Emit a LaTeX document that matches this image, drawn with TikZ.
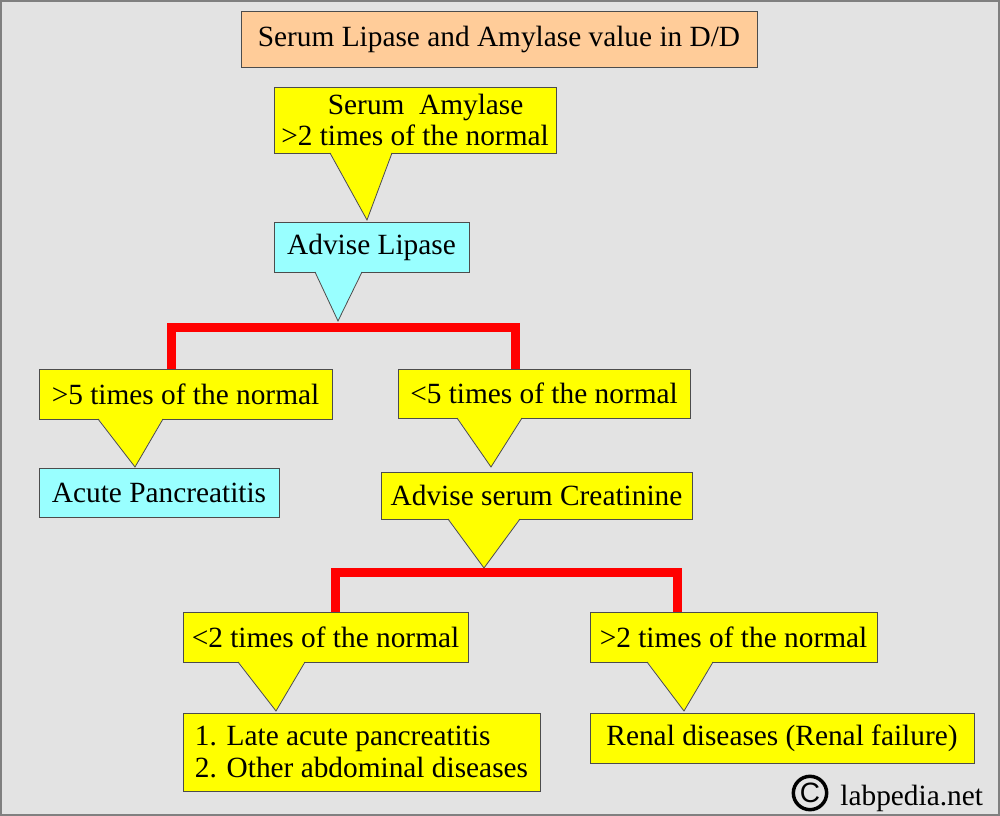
\documentclass[tikz,border=0pt]{standalone}
\usepackage{fontspec}
\setmainfont{Liberation Serif}
\usetikzlibrary{calc}

\definecolor{bggrey}{HTML}{E3E3E3}
\definecolor{peach}{HTML}{FFCC99}
\definecolor{lcyan}{HTML}{99FFFF}
\definecolor{lyellow}{HTML}{FFFF00}

\begin{document}
\begin{tikzpicture}[x=0.75pt, y=-0.75pt,
    every node/.style={draw=black!70, line width=0.6pt, inner sep=0pt, font=\fontsize{22}{23}\selectfont},
    ybox/.style={fill=lyellow},
    cbox/.style={fill=lcyan},
    tbox/.style={fill=peach},
    edge/.style={draw=black!70, line width=0.6pt, line join=miter},
    bar/.style={draw=red, line width=6.75pt}]
    % background and frame
    \fill[bggrey] (0,0) rectangle (1000,816);
    \draw[black!50, line width=1.5pt] (1,1) rectangle (999,815);
    \useasboundingbox (0,0) rectangle (1000,816);

    % boxes
    \node[tbox, minimum width=387pt, minimum height=42pt] (title) at (499,39) {Serum Lipase and Amylase value in D/D};
    \node[ybox, minimum width=211.5pt, minimum height=49.5pt, align=center] (amy) at (415,120) {\hspace*{16pt}Serum\ \ Amylase\\>2 times of the normal};
    \node[cbox, minimum width=146.25pt, minimum height=37.5pt] (lip) at (371.5,247) {Advise Lipase};
    \node[ybox, minimum width=219.75pt, minimum height=37.5pt] (gtfive) at (185.5,394) {>5 times of the normal};
    \node[ybox, minimum width=219pt, minimum height=36.75pt] (ltfive) at (544,393.5) {<5 times of the normal};
    \node[cbox, minimum width=180pt, minimum height=36.75pt] (acute) at (159,492.5) {Acute Pancreatitis};
    \node[ybox, minimum width=233.25pt, minimum height=35.25pt] (creat) at (536.5,495.5) {Advise serum Creatinine};
    \node[ybox, minimum width=213.75pt, minimum height=37.5pt] (lttwo) at (325.5,637) {<2 times of the normal};
    \node[ybox, minimum width=215.25pt, minimum height=37.5pt] (gttwo) at (733.5,637) {>2 times of the normal};
    \node[ybox, minimum width=267.75pt, minimum height=58.5pt, align=left,
          font=\fontsize{22}{24}\selectfont] (late) at (361.5,752) {1. Late acute pancreatitis\\2. Other abdominal diseases};
    \node[ybox, minimum width=288pt, minimum height=37.5pt] (renal) at (782,738) {Renal diseases (Renal failure)};

    % red branches
    \coordinate (jone) at (343,328);
    \coordinate (jtwo) at (507,572.5);
    \draw[bar] ([xshift=-10.5pt]gtfive.north) |- (jone) -| ([xshift=-21.75pt]ltfive.north);
    \draw[bar] ([xshift=7.5pt]lttwo.north) |- (jtwo) -| ([xshift=-42pt]gttwo.north);

    % callout pointers
    \fill[lyellow] (330,152) -- (367,220) -- (392,152) -- cycle;
    \draw[edge] (330,153) -- (367,220) -- (392,153);
    \fill[lcyan] (315,271) -- (338,321) -- (362,271) -- cycle;
    \draw[edge] (315,272) -- (338,321) -- (362,272);
    \fill[lyellow] (98,418) -- (135,467) -- (163,418) -- cycle;
    \draw[edge] (98,419) -- (135,467) -- (163,419);
    \fill[lyellow] (457,417) -- (491,467) -- (522,417) -- cycle;
    \draw[edge] (457,418) -- (491,467) -- (522,418);
    \fill[lyellow] (448,518) -- (484,568) -- (520,518) -- cycle;
    \draw[edge] (448,519) -- (484,568) -- (520,519);
    \fill[lyellow] (238,661) -- (276,711) -- (305,661) -- cycle;
    \draw[edge] (238,662) -- (276,711) -- (305,662);
    \fill[lyellow] (647,661) -- (684,711) -- (713,661) -- cycle;
    \draw[edge] (647,662) -- (684,711) -- (713,662);

    % site mark
    \node[circle, draw=black, line width=2.6pt, minimum size=25pt,
          font=\fontsize{21}{21}\selectfont\fontspec{Liberation Sans}] (copy) at (810,793) {C};
    \node[draw=none, anchor=base west] (site) at (840,805) {labpedia.net};
\end{tikzpicture}
\end{document}
